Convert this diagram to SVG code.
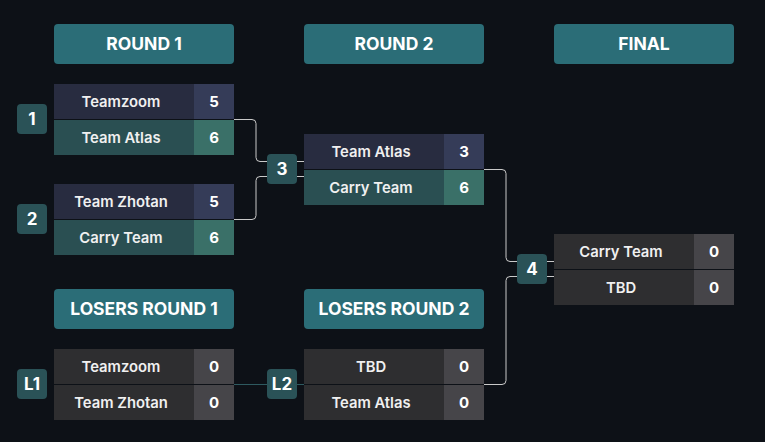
<svg xmlns="http://www.w3.org/2000/svg" width="765" height="442" viewBox="0 0 765 442">
<style>
.hdr{fill:#2b6d77}
.ht{font-family:Inter,"Liberation Sans",sans-serif;font-weight:700;font-size:17.5px;fill:#ffffff;text-anchor:middle}
.nm{font-family:Inter,"Liberation Sans",sans-serif;font-weight:600;font-size:14.8px;fill:#f0f0f0;text-anchor:middle}
.sc{font-family:Inter,"Liberation Sans",sans-serif;font-weight:700;font-size:15px;fill:#ffffff;text-anchor:middle}
.bd{fill:#2a5257}
.bt{font-family:Inter,"Liberation Sans",sans-serif;font-weight:700;font-size:17px;fill:#ffffff;text-anchor:middle}
.lose{fill:#282c40}.loses{fill:#353c58}
.win{fill:#2a4f52}.wins{fill:#3a7068}
.gr{fill:#2e2e30}.grs{fill:#464549}
.ln{fill:none;stroke:#c9c9c9;stroke-width:1}
.lt{fill:none;stroke:#2e5a60;stroke-width:1}
</style>
<rect width="765" height="442" fill="#0d1117"/>
<g id="headers">
<rect class="hdr" x="54" y="24" width="180" height="40" rx="4"/><text class="ht" x="144" y="50">ROUND 1</text>
<rect class="hdr" x="304" y="24" width="180" height="40" rx="4"/><text class="ht" x="394" y="50">ROUND 2</text>
<rect class="hdr" x="554" y="24" width="180" height="40" rx="4"/><text class="ht" x="644" y="50">FINAL</text>
<rect class="hdr" x="54" y="289" width="180" height="40" rx="4"/><text class="ht" x="144" y="315">LOSERS ROUND 1</text>
<rect class="hdr" x="304" y="289" width="180" height="40" rx="4"/><text class="ht" x="394" y="315">LOSERS ROUND 2</text>
</g>
<g id="connectors">
<path class="ln" d="M234 119.5H252a4 4 0 0 1 4 4V157.5a4 4 0 0 0 4 4H267"/>
<path class="ln" d="M234 219.5H252a4 4 0 0 0 4 -4V180.5a4 4 0 0 1 4 -4H267"/>
<path class="ln" d="M297 161.5H304M297 176.5H304"/>
<path class="ln" d="M484 169.5H502a4 4 0 0 1 4 4V257.5a4 4 0 0 0 4 4H517"/>
<path class="ln" d="M484 384.5H502a4 4 0 0 0 4 -4V280.5a4 4 0 0 1 4 -4H517"/>
<path class="ln" d="M547 261.5H554M547 276.5H554"/>
<path class="lt" d="M234 384.5H267M297 384.5H304"/>
</g>
<g id="match1">
<rect class="lose" x="54" y="84" width="140" height="35"/><rect class="loses" x="194" y="84" width="40" height="35"/>
<rect class="win" x="54" y="120" width="140" height="35"/><rect class="wins" x="194" y="120" width="40" height="35"/>
<text class="nm" x="121" y="106.5">Teamzoom</text><text class="sc" x="214" y="106.5">5</text>
<text class="nm" x="121" y="142.5">Team Atlas</text><text class="sc" x="214" y="142.5">6</text>
</g>
<g id="badge1"><rect class="bd" x="17" y="104" width="30" height="30" rx="4"/><text class="bt" x="32" y="125">1</text></g>
<g id="match2">
<rect class="lose" x="54" y="184" width="140" height="35"/><rect class="loses" x="194" y="184" width="40" height="35"/>
<rect class="win" x="54" y="220" width="140" height="35"/><rect class="wins" x="194" y="220" width="40" height="35"/>
<text class="nm" x="121" y="206.5">Team Zhotan</text><text class="sc" x="214" y="206.5">5</text>
<text class="nm" x="121" y="242.5">Carry Team</text><text class="sc" x="214" y="242.5">6</text>
</g>
<g id="badge2"><rect class="bd" x="17" y="204" width="30" height="30" rx="4"/><text class="bt" x="32" y="225">2</text></g>
<g id="match3">
<rect class="lose" x="304" y="134" width="140" height="35"/><rect class="loses" x="444" y="134" width="40" height="35"/>
<rect class="win" x="304" y="170" width="140" height="35"/><rect class="wins" x="444" y="170" width="40" height="35"/>
<text class="nm" x="371" y="156.5">Team Atlas</text><text class="sc" x="464" y="156.5">3</text>
<text class="nm" x="371" y="192.5">Carry Team</text><text class="sc" x="464" y="192.5">6</text>
</g>
<g id="badge3"><rect class="bd" x="267" y="154" width="30" height="30" rx="4"/><text class="bt" x="282" y="175">3</text></g>
<g id="match4">
<rect class="gr" x="554" y="234" width="140" height="35"/><rect class="grs" x="694" y="234" width="40" height="35"/>
<rect class="gr" x="554" y="270" width="140" height="35"/><rect class="grs" x="694" y="270" width="40" height="35"/>
<text class="nm" x="621" y="256.5">Carry Team</text><text class="sc" x="714" y="256.5">0</text>
<text class="nm" x="621" y="292.5">TBD</text><text class="sc" x="714" y="292.5">0</text>
</g>
<g id="badge4"><rect class="bd" x="517" y="254" width="30" height="30" rx="4"/><text class="bt" x="532" y="275">4</text></g>
<g id="matchL1">
<rect class="gr" x="54" y="349" width="140" height="35"/><rect class="grs" x="194" y="349" width="40" height="35"/>
<rect class="gr" x="54" y="385" width="140" height="35"/><rect class="grs" x="194" y="385" width="40" height="35"/>
<text class="nm" x="121" y="371.5">Teamzoom</text><text class="sc" x="214" y="371.5">0</text>
<text class="nm" x="121" y="407.5">Team Zhotan</text><text class="sc" x="214" y="407.5">0</text>
</g>
<g id="badgeL1"><rect class="bd" x="17" y="369" width="30" height="30" rx="4"/><text class="bt" x="32" y="390">L1</text></g>
<g id="matchL2">
<rect class="gr" x="304" y="349" width="140" height="35"/><rect class="grs" x="444" y="349" width="40" height="35"/>
<rect class="gr" x="304" y="385" width="140" height="35"/><rect class="grs" x="444" y="385" width="40" height="35"/>
<text class="nm" x="371" y="371.5">TBD</text><text class="sc" x="464" y="371.5">0</text>
<text class="nm" x="371" y="407.5">Team Atlas</text><text class="sc" x="464" y="407.5">0</text>
</g>
<g id="badgeL2"><rect class="bd" x="267" y="369" width="30" height="30" rx="4"/><text class="bt" x="282" y="390">L2</text></g>
</svg>
